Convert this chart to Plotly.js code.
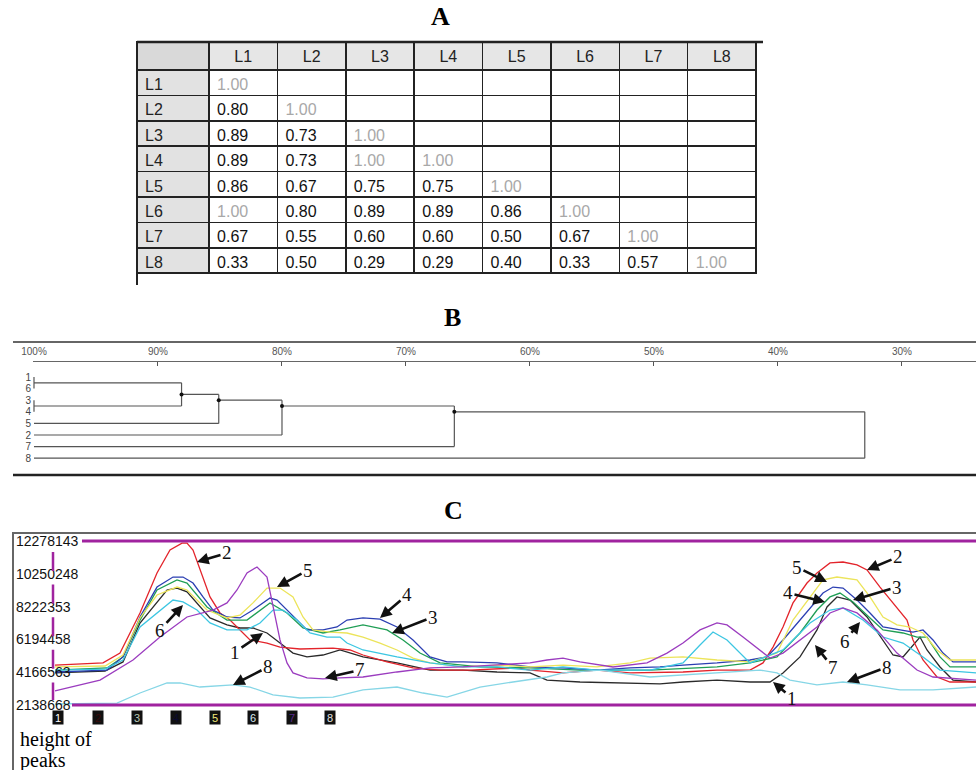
<!DOCTYPE html>
<html><head><meta charset="utf-8">
<script src="https://cdn.plot.ly/plotly-3.0.1.min.js"></script>
<style>html,body{margin:0;padding:0;background:#fff;}#chart{width:976px;height:770px;}</style>
</head><body><div id="chart"></div>
<script>
// ---------- Panel A: similarity matrix (columns) ----------
const laneLabels = ['L1','L2','L3','L4','L5','L6','L7','L8'];
const simL1 = [1.00,0.80,0.89,0.89,0.86,1.00,0.67,0.33];
const simL2 = [null,1.00,0.73,0.73,0.67,0.80,0.55,0.50];
const simL3 = [null,null,1.00,1.00,0.75,0.89,0.60,0.29];
const simL4 = [null,null,null,1.00,0.75,0.89,0.60,0.29];
const simL5 = [null,null,null,null,1.00,0.86,0.50,0.40];
const simL6 = [null,null,null,null,null,1.00,0.67,0.33];
const simL7 = [null,null,null,null,null,null,1.00,0.57];
const simL8 = [null,null,null,null,null,null,null,1.00];

// ---------- Panel B: dendrogram ----------
const leafOrder = ['1','6','3','4','5','2','7','8'];
const mergeA = [0, 2, 8, 10, 11, 12, 13];
const mergeB = [1, 3, 9, 4, 5, 6, 7];
const mergeLevel = [100, 100, 88.1, 85.1, 80.0, 66.1, 33.0];
const dendroTicks = [100, 90, 80, 70, 60, 50, 40, 30];

// ---------- Panel C: densitometric profiles (height of peaks, millions) ----------
const yTickVals = [2.138668, 4.166563, 6.194458, 8.222353, 10.250248, 12.278143];
const yTickText = ['2138668','4166563','6194458','8222353','10250248','12278143'];

const pos1 = [55,105,123,140,167,177,187,197,210,227,240,253,267,280,293,307,323,340,363,397,430,463,497,530,547,580,613,660,683,717,750,770,783,800,817,827,837,850,867,883,893,903,913,920,927,940,953,976];
const height1 = [4.12,4.24,4.80,7.21,9.25,9.37,9.13,8.45,7.52,7.09,6.90,6.90,6.59,5.97,5.35,5.11,5.23,5.54,5.11,4.74,4.30,4.30,4.18,4.12,3.68,3.56,3.50,3.44,3.56,3.68,3.56,3.56,4.12,5.11,6.78,8.20,8.82,8.63,7.58,6.16,5.23,5.11,5.85,6.34,5.54,4.49,3.68,3.56];

const pos2 = [55,103,120,140,157,170,182,187,193,200,210,220,230,240,250,267,280,300,333,350,363,387,413,440,470,517,530,563,597,630,683,717,750,763,773,783,793,807,817,830,843,857,867,880,893,907,913,923,937,950,976];
const height2 = [4.61,4.74,5.35,7.83,10.30,11.72,12.15,12.15,11.72,10.49,8.82,7.83,7.39,6.78,6.16,5.97,5.72,5.60,5.66,5.54,5.23,4.80,4.43,4.30,4.30,4.43,4.30,4.12,4.30,4.12,4.18,4.30,4.30,4.74,5.72,6.96,8.45,9.68,10.30,10.92,10.98,10.80,10.49,9.43,8.45,7.39,6.16,4.92,3.87,3.56,3.56];

const pos3 = [55,107,123,140,157,177,187,197,207,227,247,270,287,303,323,340,363,387,403,420,440,480,530,580,630,650,717,750,777,800,817,830,840,853,870,883,903,917,927,940,950,976];
const height3 = [4.30,4.43,5.11,7.39,9.25,9.87,9.68,8.94,8.20,7.39,7.39,8.45,7.83,6.90,6.59,6.78,7.09,6.78,6.16,5.35,4.74,4.49,4.43,4.30,4.30,4.30,4.49,4.74,5.11,6.59,8.01,8.82,9.06,8.51,7.52,6.78,6.59,6.34,6.34,5.11,4.49,4.49];

const pos4 = [55,107,123,140,157,173,183,193,203,213,227,240,253,270,277,287,300,307,323,337,347,363,380,397,413,430,447,463,497,530,563,597,630,660,683,717,750,767,783,800,817,823,833,843,857,870,883,900,913,923,933,943,953,976];
const height4 = [4.18,4.30,5.11,7.58,9.43,10.05,10.05,9.68,8.82,8.01,7.58,7.52,8.01,8.75,8.63,8.01,7.21,6.78,6.78,6.96,7.39,7.52,7.45,6.96,6.16,5.11,4.80,4.80,4.74,4.49,4.43,4.30,4.43,4.49,4.61,4.74,4.92,5.11,6.16,7.39,8.63,9.06,9.43,9.37,8.63,7.83,6.96,6.78,6.65,6.78,6.16,5.35,4.80,4.80];

const pos5 = [55,105,123,140,157,177,187,197,207,227,240,253,267,280,293,303,313,330,347,363,380,397,413,430,463,497,530,563,597,630,650,683,717,750,777,793,810,823,837,857,870,883,897,910,923,937,950,976];
const height5 = [4.49,4.55,5.23,7.52,8.94,9.43,9.25,8.63,8.01,7.52,7.70,8.45,9.37,9.37,8.82,7.58,6.78,6.65,6.59,6.34,5.97,5.54,5.04,4.74,4.49,4.61,4.49,4.61,4.49,4.74,5.04,5.11,4.92,4.80,5.35,7.39,8.82,9.87,10.05,9.87,8.82,7.58,7.09,6.96,6.59,5.54,4.92,4.92];

const pos6 = [55,105,123,140,173,183,197,210,227,247,260,273,283,297,310,327,340,347,363,397,430,463,497,530,563,597,650,683,700,713,727,750,783,810,830,843,863,883,903,923,940,976];
const height6 = [4.30,4.36,4.92,6.96,8.63,8.51,8.01,7.21,6.78,6.78,7.21,8.01,8.01,7.39,6.59,6.34,6.34,5.97,5.54,5.11,4.74,4.49,4.49,4.30,4.49,4.30,4.30,4.74,5.85,6.65,6.16,4.74,5.54,7.21,8.01,8.14,7.39,6.34,5.97,5.11,4.30,4.12];

const pos7 = [55,100,133,160,187,213,227,237,247,257,267,273,280,287,293,307,323,340,363,397,430,463,497,530,547,563,580,613,647,667,683,700,717,727,743,760,770,783,800,817,830,843,857,877,897,917,933,950,976];
const height7 = [3.01,3.68,4.92,6.34,7.58,8.01,8.45,9.25,10.30,10.67,10.05,8.20,6.16,4.74,4.12,3.81,3.75,3.81,3.87,4.18,4.43,4.49,4.61,4.74,4.92,5.04,4.80,4.49,4.74,5.35,5.97,6.78,7.21,7.09,6.34,5.54,5.04,5.35,6.16,6.96,7.83,8.14,7.83,6.78,5.35,4.30,3.87,3.81,3.68];

const pos8 = [55,117,140,167,180,200,233,250,273,300,333,363,397,423,447,480,513,547,563,600,650,717,760,777,790,817,843,867,900,933,976];
const height8 = [2.20,2.26,2.88,3.50,3.50,3.25,3.38,3.25,2.76,2.57,2.63,3.07,3.25,2.88,2.63,3.25,3.56,3.87,4.12,4.30,3.87,4.12,4.30,4.12,3.68,3.38,3.56,3.38,3.07,3.07,3.25];

const laneNames = ['1','2','3','4','5','6','7','8'];
const lanePos = [pos1,pos2,pos3,pos4,pos5,pos6,pos7,pos8];
const laneHeights = [height1,height2,height3,height4,height5,height6,height7,height8];

// ---------- helpers ----------
const W = 976, H = 770;
const px = v => v / W;
const py = v => 1 - v / H;
const SERIF = 'Liberation Serif, Times New Roman, serif';
const SANS = 'Liberation Sans, Arial, sans-serif';

// ---------- table trace ----------
const simCols = [simL1,simL2,simL3,simL4,simL5,simL6,simL7,simL8];
const cellVals = [laneLabels].concat(simCols.map(c => c.map(v => v === null ? '' : v.toFixed(2))));
const cellFontColors = [laneLabels.map(() => '#222')].concat(
  simCols.map(c => c.map(v => v === 1 ? '#a8a8a8' : '#111')));
const cellFill = ['#e2e2e2'].concat(simCols.map(() => '#ffffff'));

const tableTrace = {
  type: 'table',
  domain: {x: [px(137), px(756)], y: [0.60, py(42)]},
  columnwidth: [72, 68.3, 68.3, 68.3, 68.3, 68.3, 68.3, 68.3, 68.3],
  header: {
    values: [''].concat(laneLabels),
    fill: {color: ['#d9d9d9'].concat(laneLabels.map(() => '#e6e6e6'))},
    line: {color: '#222', width: 1.5},
    align: 'center',
    font: {family: SANS, size: 16, color: '#222'},
    height: 28
  },
  cells: {
    values: cellVals,
    fill: {color: cellFill},
    line: {color: '#222', width: 1.5},
    align: 'left',
    font: {family: SANS, size: 16, color: cellFontColors},
    height: 25.4
  }
};

// ---------- dendrogram traces ----------
const nodeX = leafOrder.map(() => 100);
const nodeY = leafOrder.map((_, i) => i);
const nodeLeaves = leafOrder.map((_, i) => [i]);
const dx = [], dy = [];
const dotX = [], dotY = [];
mergeLevel.forEach((lvl, k) => {
  const a = mergeA[k], b = mergeB[k];
  [a, b].forEach(c => { dx.push(nodeX[c], lvl, null); dy.push(nodeY[c], nodeY[c], null); });
  dx.push(lvl, lvl, null); dy.push(nodeY[a], nodeY[b], null);
  const leaves = nodeLeaves[a].concat(nodeLeaves[b]);
  const my = leaves.reduce((s, i) => s + i, 0) / leaves.length;
  nodeX.push(lvl); nodeY.push(my); nodeLeaves.push(leaves);
  if (lvl < 100 && k < mergeLevel.length - 1) { dotX.push(lvl); dotY.push(my); }
});
const dendroTrace = {type: 'scatter', mode: 'lines', x: dx, y: dy, xaxis: 'x', yaxis: 'y',
  line: {color: '#555', width: 1.2}, hoverinfo: 'skip'};
const dendroDots = {type: 'scatter', mode: 'markers', x: dotX, y: dotY, xaxis: 'x', yaxis: 'y',
  marker: {color: '#111', size: 4}, hoverinfo: 'skip'};

// ---------- profile traces ----------
const laneColors = ['#2a2a2a','#e3242b','#1f9e55','#2b3fb2','#ece45a','#3cc6e2','#9b3cbf','#86d6e6'];
const profileTraces = laneNames.map((n, i) => ({
  type: 'scatter', mode: 'lines', name: n, x: lanePos[i], y: laneHeights[i],
  xaxis: 'x2', yaxis: 'y2', line: {color: laneColors[i], width: 1.3}
}));

// ---------- annotations ----------
const ann = [];
const paperText = (text, x, y, size, xanchor) => ({text, x: px(x), y: py(y), xref: 'paper', yref: 'paper',
  xanchor: xanchor || 'center', yanchor: 'middle', showarrow: false, font: {family: SERIF, size, color: '#000'}});
ann.push(paperText('<b>A</b>', 440, 17, 26));
ann.push(paperText('<b>B</b>', 452, 317, 26));
ann.push(paperText('<b>C</b>', 453, 510, 26));
ann.push(paperText('height of', 18, 739, 20, 'left'));
ann.push(paperText('peaks', 18, 760, 20, 'left'));

// lane boxes under the profile
const boxX = [58, 98, 137, 176, 215, 253, 292, 330];
const boxTextColor = ['#ffffff','#3a0a0a','#b8c8b8','#0a0a30','#f2e87a','#d8e8f0','#5a2a8a','#e0e0e0'];
laneNames.forEach((n, i) => ann.push({text: n, x: px(boxX[i]), y: py(717), xref: 'paper', yref: 'paper',
  xanchor: 'center', yanchor: 'middle',
  showarrow: false, bgcolor: '#111', width: 10, height: 13, borderpad: 0,
  font: {family: SANS, size: 11, color: boxTextColor[i]}}));

// arrows pointing to lanes
const arrowSpecs = [
  ['2', 197, 10.98, 30, -9], ['5', 277, 9.43, 31, -17], ['6', 183, 8.32, -23, 25],
  ['1', 263, 6.59, -28, 19], ['8', 233, 3.38, 35, -18], ['7', 325, 3.81, 35, -8],
  ['4', 380, 7.52, 27, -23], ['3', 392, 6.59, 41, -16],
  ['5', 827, 9.74, -30, -15], ['2', 867, 10.49, 31, -13], ['4', 825, 8.51, -37, -9],
  ['3', 853, 8.63, 44, -13], ['6', 860, 7.27, -15, 19], ['7', 815, 5.85, 18, 23],
  ['8', 847, 3.56, 40, -15], ['1', 773, 3.56, 19, 16]
];
arrowSpecs.forEach(s => ann.push({text: s[0], x: s[1], y: s[2], xref: 'x2', yref: 'y2', ax: s[3], ay: s[4],
  showarrow: true, arrowhead: 2, arrowsize: 0.9, arrowwidth: 2.6, arrowcolor: '#111', standoff: 0,
  font: {family: SERIF, size: 19, color: '#111'}}));

// ---------- shapes ----------
const MAG = '#a0239f';
const shapes = [
  {type: 'line', xref: 'paper', yref: 'paper', x0: px(137), x1: px(763), y0: py(42), y1: py(42), line: {color: '#222', width: 2.5}},
  {type: 'line', xref: 'paper', yref: 'paper', x0: px(137), x1: px(137), y0: py(42), y1: py(285), line: {color: '#222', width: 2}},
  {type: 'line', xref: 'paper', yref: 'paper', x0: px(13), x1: 1, y0: py(342), y1: py(342), line: {color: '#666', width: 2}},
  {type: 'line', xref: 'paper', yref: 'paper', x0: px(13), x1: 1, y0: py(475), y1: py(475), line: {color: '#222', width: 2.5}},
  {type: 'rect', xref: 'paper', yref: 'paper', x0: px(13), x1: 1.02, y0: -0.02, y1: py(533), line: {color: '#666', width: 2}},
  {type: 'line', xref: 'paper', yref: 'y2', x0: px(82), x1: 1, y0: 12.278143, y1: 12.278143, line: {color: MAG, width: 3}},
  {type: 'line', xref: 'paper', yref: 'y2', x0: px(72), x1: 1, y0: 2.138668, y1: 2.138668, line: {color: MAG, width: 3}},
  {type: 'line', xref: 'paper', yref: 'paper', x0: px(53), x1: px(53), y0: py(552), y1: py(700), line: {color: MAG, width: 2.5, dash: '19px,13.6px'}}
];

const layout = {
  width: W, height: H,
  margin: {l: 0, r: 0, t: 0, b: 0},
  paper_bgcolor: '#ffffff', plot_bgcolor: 'rgba(0,0,0,0)',
  showlegend: false,
  xaxis: {domain: [px(33), 1], range: [100.08, 24.03], side: 'top', anchor: 'y',
    showline: true, linecolor: '#666', linewidth: 1, ticks: 'inside', ticklen: 4, tickcolor: '#555',
    tickvals: dendroTicks, ticktext: dendroTicks.map(t => t + '%'), showgrid: false, zeroline: false,
    tickfont: {family: SANS, size: 10, color: '#555'}, ticklabelstandoff: 2},
  yaxis: {domain: [py(475), py(362)], range: [8.448, -1.293], anchor: 'x',
    tickvals: leafOrder.map((_, i) => i), ticktext: leafOrder, showgrid: false, zeroline: false,
    showline: false, ticks: '', tickfont: {family: SANS, size: 10, color: '#444'}, ticklabelstandoff: 1},
  xaxis2: {domain: [px(13), 1], range: [13, 976], anchor: 'y2', visible: false},
  yaxis2: {domain: [py(730), py(520)], range: [0.5931, 13.576], anchor: 'x2',
    tickvals: yTickVals, ticktext: yTickText, ticklabelposition: 'inside', showgrid: false,
    zeroline: false, showline: false, ticks: '', tickfont: {family: SANS, size: 14, color: '#111'}},
  annotations: ann,
  shapes: shapes
};

Plotly.newPlot('chart', [tableTrace, dendroTrace, dendroDots].concat(profileTraces), layout,
  {displayModeBar: false, staticPlot: true});
</script>
</body></html>
